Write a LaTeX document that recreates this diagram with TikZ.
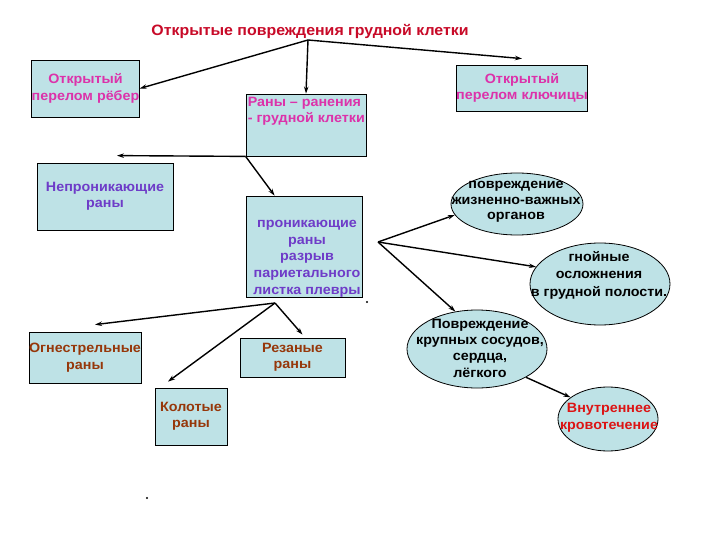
\documentclass[tikz,border=0pt]{standalone}
\usepackage{fontspec}
\setmainfont{Liberation Sans}[FakeStretch=1.06]
\usetikzlibrary{arrows.meta,shapes.geometric}
\definecolor{boxfill}{RGB}{190,226,230}
\definecolor{pinktext}{RGB}{220,50,170}
\definecolor{violettext}{RGB}{110,60,200}
\definecolor{browntext}{RGB}{150,55,10}
\definecolor{titlered}{RGB}{200,10,40}
\definecolor{bleedred}{RGB}{220,20,20}

\tikzset{
  box/.style={draw=black, fill=boxfill, line width=0.8pt, inner sep=0pt},
  oval/.style={ellipse, draw=black, fill=boxfill, line width=0.8pt, inner sep=0pt},
  txt/.style={font=\fontsize{13.5}{16.5}\selectfont\bfseries, align=center, inner sep=0pt},
  arr/.style={-{Stealth[length=7pt,width=4.5pt]}, line width=1.4pt},
}

\begin{document}
\begin{tikzpicture}[x=1pt,y=-1pt]
    \useasboundingbox[fill=white] (0,0) rectangle (720,540);

    % Title and its three branches
    \node[txt, text=titlered, font=\fontsize{15}{18}\selectfont\bfseries] (title) at (310,31) {Открытые повреждения грудной клетки};
    \coordinate (fork) at (308,40);

    \node[box, minimum width=107, minimum height=57, txt, text=pinktext] (ribs) at (85.5,88.5) {Открытый\\перелом рёбер};
    \node[box, minimum width=120, minimum height=62] (wounds) at (306,125) {};
    \node[txt, text=pinktext, anchor=north west, align=left] (woundstxt) at ([xshift=2pt,yshift=-3pt]wounds.north west) {Раны – ранения\\- грудной клетки};
    \node[box, minimum width=130, minimum height=46, txt, text=pinktext] (clav) at (522,88) {Открытый\\перелом ключицы};

    \draw[arr] (fork) -- (ribs.east);
    \draw[arr] (fork) -- (wounds.north);
    \draw[arr] (fork) -- ([yshift=6pt]clav.north);

    % Kinds of wounds
    \node[box, minimum width=136, minimum height=67, txt, text=violettext] (nonpen) at (105,196.5) {Непроникающие\\раны};
    \node[box, minimum width=116, minimum height=101] (pen) at (304,246.5) {};
    \node[txt, text=violettext, anchor=south, font=\fontsize{13.5}{16.75}\selectfont\bfseries] (pentxt) at ([xshift=3pt]pen.south) {проникающие\\раны\\разрыв\\париетального\\листка плевры};

    \draw[arr] (wounds.south west) -- ([xshift=12pt,yshift=7pt]nonpen.north);
    \draw[arr] (wounds.south west) -- ([xshift=29pt]pen.north west);

    % Consequences of penetrating wounds
    \coordinate (penr) at (378,242);
    \node[oval, minimum width=132, minimum height=62] (organs) at (517,204) {};
    \node[txt, font=\fontsize{13.5}{15.5}\selectfont\bfseries] (organstxt) at (516,202) {повреждение\\жизненно-важных\\органов};
    \node[oval, minimum width=140, minimum height=82] (pus) at (600,284) {};
    \node[txt, font=\fontsize{13.5}{17.5}\selectfont\bfseries] (pustxt) at (599,275) {гнойные\\осложнения\\в грудной полости.};
    \node[oval, minimum width=140, minimum height=78] (vessels) at (477,349) {};
    \node[txt, font=\fontsize{13.5}{16.3}\selectfont\bfseries] (vesselstxt) at (480,348) {Повреждение\\крупных сосудов,\\сердца,\\лёгкого};
    \node[oval, minimum width=100, minimum height=64] (bleed) at (608,419) {};
    \node[txt, text=bleedred] (bleedtxt) at (609,418) {Внутреннее\\кровотечение};

    \draw[arr] (penr) -- (organs.190);
    \draw[arr] (penr) -- (pus.165);
    \draw[arr] (penr) -- (vessels.120);
    \draw[arr] (vessels.-30) -- (bleed.150);

    % Types of penetrating wounds
    \coordinate (penb) at (275,303);
    \node[box, minimum width=106, minimum height=51, txt, text=browntext] (gun) at (85,357.5) {Огнестрельные\\раны};
    \node[box, minimum width=105, minimum height=39, txt, text=browntext] (cut) at (292.5,357.5) {Резаные\\раны};
    \node[box, minimum width=72, minimum height=57, txt, text=browntext] (stab) at (191,416.5) {Колотые\\раны};

    \draw[arr] (penb) -- ([xshift=10pt,yshift=7pt]gun.north);
    \draw[arr] (penb) -- ([xshift=-23pt,yshift=6pt]stab.north);
    \draw[arr] (penb) -- ([xshift=10pt,yshift=3pt]cut.north);

    % stray dots
    \fill (367,302) circle (1.1pt);
    \fill (147,498) circle (1.1pt);
\end{tikzpicture}
\end{document}
